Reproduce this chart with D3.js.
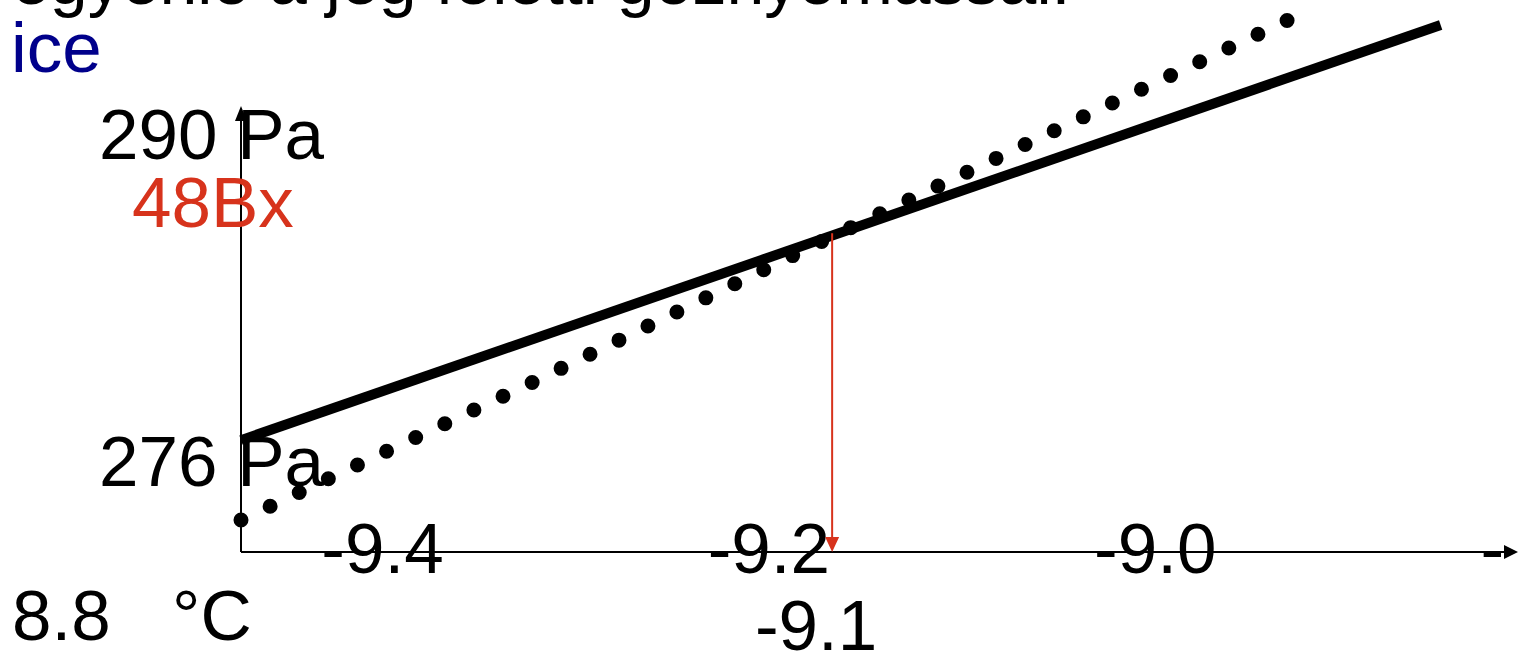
<!doctype html>
<html lang="hu">
  <head>
    <meta charset="UTF-8" />
    <title>Gőznyomás jég felett</title>
    <style>
      body { margin: 0; background: #fff; overflow: hidden; }
      svg { display: block; font-family: "Liberation Sans", Arial, sans-serif; }
      .lbl { font-size: 71px; fill: #000; }
    </style>
  </head>
  <body>
    <div id="chart"></div>
    <script src="https://d3js.org/d3.v7.min.js"></script>
    <script>
      // values
      const xTicks = [-9.4, -9.2, -9.0, -8.8];
      const yTicks = [290, 276];
      const yUnit = 'Pa';

      // solid line (two ends)
      const solidT = [-9.473, -8.852];
      const solidP = [276.9, 294.67];

      // dotted line
      const dotT = [-9.473, -9.322, -9.172, -9.022, -8.931];
      const dotP = [273.48, 279.38, 285.42, 291.33, 294.88];

      // red marker
      const markT = -9.167;
      const markP = 285.76;
      const markLabel = '48Bx';
      const markTick = '-9.1';

      const title = 'egyenlő a jég feletti gőznyomással:';
      const seriesName = 'ice';

      const width = 1518;
      const height = 653;

      const svg = d3.select('#chart').append('svg').attr('width', width).attr('height', height);

      const x = d3.scaleLinear().domain([-9.473, -8.813]).range([241, 1516]);
      const y = d3.scaleLinear().domain([272.11, 291.16]).range([552, 107]);

      // tick labels run off the right edge; the last one only shows its minus sign
      svg.append('clipPath').attr('id', 'clipx').append('rect').attr('x', 0).attr('y', 0).attr('width', 1502).attr('height', height);

      // title (cut off at top) and series name
      svg.append('text').attr('class', 'lbl').attr('x', 12).attr('y', 4).style('font-size', '68px').text(title);
      svg.append('text').attr('class', 'lbl').attr('x', 11).attr('y', 72).style('fill', '#00008b').text(seriesName);

      // lines
      const solid = solidT.map((t, i) => [t, solidP[i]]);
      const dots = dotT.map((t, i) => [t, dotP[i]]);
      const line = d3.line().x((d) => x(d[0])).y((d) => y(d[1]));

      svg.append('path').attr('d', line(solid)).attr('fill', 'none').attr('stroke', '#000').attr('stroke-width', 10);

      svg
        .append('path')
        .attr('d', line(dots))
        .attr('fill', 'none')
        .attr('stroke', '#000')
        .attr('stroke-width', 15)
        .attr('stroke-linecap', 'round')
        .attr('stroke-dasharray', '0 32.2');

      // axes lines with arrows
      const x0 = x.range()[0];
      const yb = y.range()[0];
      svg.append('line').attr('x1', x0).attr('y1', yb).attr('x2', 1506).attr('y2', yb).attr('stroke', '#000').attr('stroke-width', 2);
      svg.append('path').attr('d', `M1518,${yb}L1504,${yb - 7}L1504,${yb + 7}Z`).attr('fill', '#000');
      svg.append('line').attr('x1', x0).attr('y1', yb).attr('x2', x0).attr('y2', 118).attr('stroke', '#000').attr('stroke-width', 2);
      svg.append('path').attr('d', `M${x0},106L${x0 - 6},121L${x0 + 6},121Z`).attr('fill', '#000');

      // x tick labels
      const xAxis = svg
        .append('g')
        .attr('clip-path', 'url(#clipx)')
        .append('g')
        .attr('transform', `translate(0,${yb})`)
        .call(d3.axisBottom(x).tickValues(xTicks).tickSize(0).tickFormat((d) => d.toFixed(1)));
      xAxis.select('.domain').remove();
      xAxis.attr('font-size', null).attr('font-family', null);
      xAxis.selectAll('text').attr('y', 21).attr('dy', 0).attr('class', 'lbl').attr('fill', '#000');

      // y tick labels
      svg
        .selectAll('.ylbl')
        .data(yTicks)
        .enter()
        .append('text')
        .attr('class', 'lbl ylbl')
        .attr('x', 99)
        .attr('y', (d) => y(d) + 25)
        .text((d) => `${d} ${yUnit}`);

      // red marker
      const red = '#d7331c';
      svg.append('line').attr('x1', x(markT)).attr('y1', y(markP)).attr('x2', x(markT)).attr('y2', yb - 12).attr('stroke', red).attr('stroke-width', 2);
      svg.append('path').attr('d', `M${x(markT)},${yb}L${x(markT) - 7},${yb - 15}L${x(markT) + 7},${yb - 15}Z`).attr('fill', red);
      svg.append('text').attr('class', 'lbl').attr('x', 132).attr('y', 227).style('fill', red).text(markLabel);
      svg.append('text').attr('class', 'lbl').attr('x', x(markT) - 16).attr('y', 650).attr('text-anchor', 'middle').text(markTick);

      // x unit
      svg.append('text').attr('class', 'lbl').attr('x', 12).attr('y', 640).text('8.8');
      svg.append('text').attr('class', 'lbl').attr('x', 172).attr('y', 640).text('°C');
    </script>
  </body>
</html>
